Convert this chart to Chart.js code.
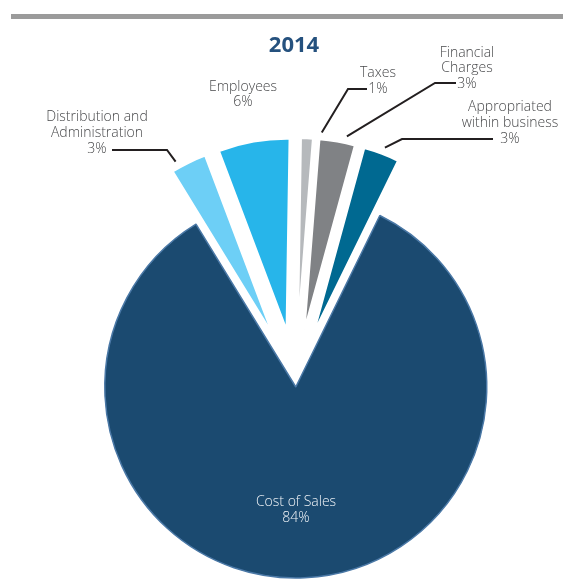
<!DOCTYPE html>
<html>
<head>
<meta charset="utf-8">
<script src="https://cdn.jsdelivr.net/npm/chart.js@4"></script>
<style>
  body { margin: 0; background: #fff; }
  #topRule { position: absolute; left: 11px; top: 14px; width: 552px; height: 5px; background: #9b9b9b; }
  canvas { position: absolute; left: 0; top: 0; }
</style>
</head>
<body>
<div id="topRule"></div>
<canvas id="pieChart" width="563" height="584"></canvas>
<script>
const chartTitle = "2014";
const categories = ["Distribution and Administration", "Employees", "Taxes", "Financial Charges", "Appropriated within business", "Cost of Sales"];
const shares = [3, 6, 1, 3, 3, 84];
const shareLabels = ["3%", "6%", "1%", "3%", "3%", "84%"];
const labelText = [
  ["Distribution and", "Administration"],
  ["Employees"],
  ["Taxes"],
  ["Financial", "Charges"],
  ["Appropriated", "within business"],
  ["Cost of Sales"]
];

const colors = ["#6dcff6", "#27b5ea", "#b6b9bc", "#808285", "#006991", "#1b4a70"];
const borderColors = ["#fff", "#fff", "#fff", "#fff", "#fff", "#4a78a6"];
const borderWidths = [2, 2, 2, 2, 2, 1.5];
// how far each slice is pulled out from the centre (px)
const explode = [52, 52, 52, 52, 52, 6];

// label placement: text centre x, first line y, line gap, leader points
const labelLayout = [
  { x: 97, y: 117, gap: 16, color: "#48494b", line: [[112, 150], [167, 150]], frac: 0.2 },
  { x: 243, y: 87, gap: 15, color: "#48494b" },
  { x: 378, y: 73, gap: 16, color: "#48494b", line: [[367, 89], [348, 89]], frac: 1.67 },
  { x: 467, y: 53, gap: 15.5, color: "#48494b", line: [[456, 83], [435, 83]], frac: 0.73 },
  { x: 510, y: 107, gap: 16, color: "#48494b", line: [[493, 139], [402, 139]], frac: 0.53 },
  { x: 296, y: 502, gap: 16, color: "#f2f5f8" }
];

const explodePlugin = {
  id: "explode",
  afterDatasetsUpdate(chart) {
    chart.getDatasetMeta(0).data.forEach((arc, i) => {
      const mid = (arc.startAngle + arc.endAngle) / 2;
      arc.x += Math.cos(mid) * explode[i];
      arc.y += Math.sin(mid) * explode[i];
    });
  }
};

const labelPlugin = {
  id: "sliceLabels",
  afterDraw(chart) {
    const ctx = chart.ctx;
    const arcs = chart.getDatasetMeta(0).data;
    ctx.save();
    ctx.textAlign = "center";
    ctx.textBaseline = "middle";

    ctx.fillStyle = "#25517e";
    ctx.font = "bold 22px 'Open Sans'";
    ctx.fillText(chartTitle, 294, 46);

    labelLayout.forEach((lay, i) => {
      const lines = labelText[i].concat([shareLabels[i]]);
      ctx.fillStyle = lay.color;
      ctx.font = "300 14px 'Open Sans'";
      lines.forEach((t, k) => ctx.fillText(t, lay.x, lay.y + k * lay.gap));

      if (lay.line) {
        const arc = arcs[i];
        const a = arc.startAngle + lay.frac * (arc.endAngle - arc.startAngle);
        const r = arc.outerRadius + 7;
        ctx.strokeStyle = "#231f20";
        ctx.lineWidth = 2;
        ctx.beginPath();
        ctx.moveTo(lay.line[0][0], lay.line[0][1]);
        ctx.lineTo(lay.line[1][0], lay.line[1][1]);
        ctx.lineTo(arc.x + Math.cos(a) * r, arc.y + Math.sin(a) * r);
        ctx.stroke();
      }
    });
    ctx.restore();
  }
};

let pieChart = new Chart(document.getElementById("pieChart").getContext("2d"), {
  type: "pie",
  data: {
    labels: categories,
    datasets: [{
      data: shares,
      backgroundColor: colors,
      borderColor: borderColors,
      borderWidth: borderWidths,
      offset: 0,
      hoverOffset: 0
    }]
  },
  options: {
    responsive: false,
    animation: false,
    events: [],
    rotation: -31.5,
    radius: 191,
    layout: { padding: { left: 28, right: 0, top: 178, bottom: 0 } },
    plugins: {
      legend: { display: false },
      tooltip: { enabled: false }
    }
  },
  plugins: [explodePlugin, labelPlugin]
});
</script>
</body>
</html>
